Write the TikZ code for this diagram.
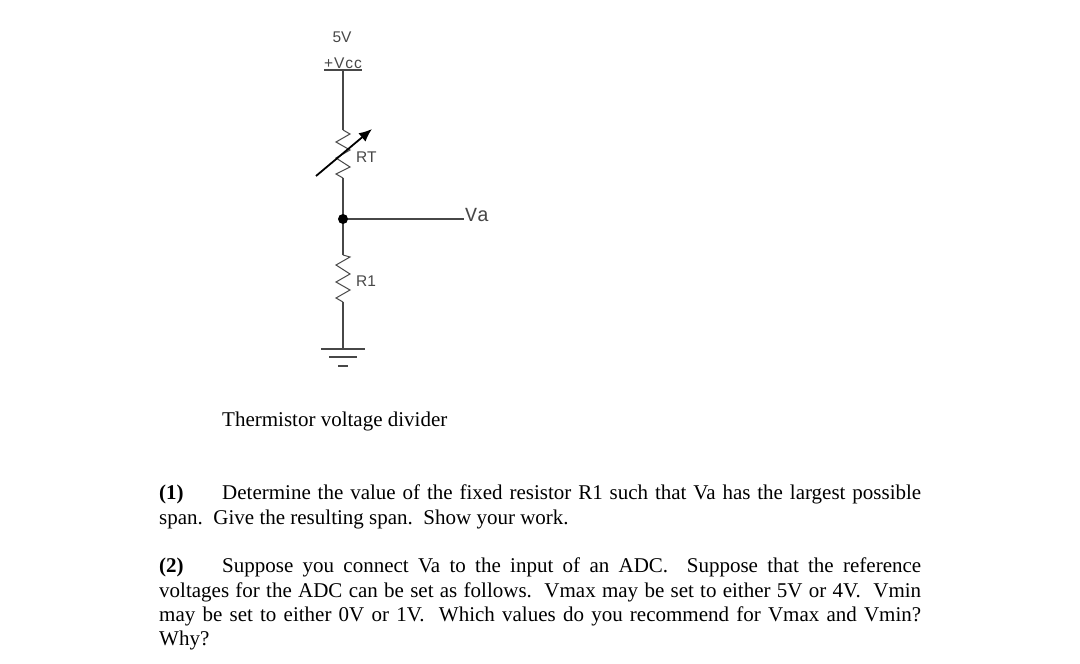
\documentclass[tikz,border=0pt]{standalone}
\usepackage{fontspec}
\setmainfont{Liberation Serif}
\newfontfamily\schemfont{Liberation Sans}
\newfontfamily\schemmono{Liberation Mono}
\usetikzlibrary{arrows.meta}
\newcommand{\bodyline}[2]{\hbox to 762pt{\hbox to 63pt{\textbf{#1}\hfil}#2}}
\newcommand{\plainline}[1]{\hbox to 762pt{#1}}
\tikzset{
  x=1pt,y=-1pt,
  wire/.style={draw=black!72,line width=1.2pt},
  resistor/.style={draw=black!72,line width=1pt,line join=miter},
  schem/.style={inner sep=0pt,text=black!72,font=\schemfont\fontsize{15.5}{17}\selectfont},
  mono/.style={inner sep=0pt,text=black!72,font=\schemmono\fontsize{20}{22}\selectfont},
  body/.style={inner sep=0pt,anchor=base west,text=black,font=\fontsize{21}{25}\selectfont},
}
\begin{document}
\begin{tikzpicture}
\useasboundingbox (0,0) rectangle (1080,664);
\node[schem] (five) at (342,37) {5V};
\node[schem] (vcc) at (343,63) {\addfontfeature{LetterSpace=6}+Vcc};
\coordinate (barL) at (324,70);
\coordinate (barR) at (362,70);
\coordinate (top) at (343,70);
\coordinate (rtT) at (343,130);
\coordinate (rtB) at (343,178);
\coordinate (jn) at (343,219);
\coordinate (vaEnd) at (464,219);
\node[mono,anchor=west] (va) at (465,215) {Va};
\coordinate (r1T) at (343,255);
\coordinate (r1B) at (343,302);
\coordinate (gnd) at (343,349);
\coordinate (g1L) at (321,349);
\coordinate (g1R) at (365,349);
\coordinate (g2L) at (329,357);
\coordinate (g2R) at (357,357);
\coordinate (g3L) at (338,366);
\coordinate (g3R) at (348,366);
\coordinate (arrS) at (316,176);
\coordinate (arrE) at (372,129);
\node[schem,anchor=west] (rt) at (356,157) {RT};
\node[schem,anchor=west] (r1) at (356,281) {R1};
\draw[wire] (barL) -- (barR);
\draw[wire] (top) -- (rtT);
\draw[resistor] (rtT) -- (350,134) -- (336,142) -- (350,150) -- (336,158) -- (350,167) -- (336,174) -- (rtB);
\draw[wire] (rtB) -- (jn);
\draw[wire] (jn) -- (vaEnd);
\draw[wire] (jn) -- (r1T);
\node[circle,fill=black,inner sep=0pt,minimum size=10pt] (junction) at (jn) {};
\draw[resistor] (r1T) -- (350,257) -- (336,265) -- (350,274) -- (336,282) -- (350,290) -- (336,298) -- (r1B);
\draw[wire] (r1B) -- (gnd);
\draw[wire] (g1L) -- (g1R);
\draw[wire] (g2L) -- (g2R);
\draw[wire] (g3L) -- (g3R);
\draw[line width=1.8pt,-{Latex[length=13pt,width=11pt]}] (arrS) -- (arrE);
\node[body] (cap) at (222,426) {Thermistor voltage divider};
\node[body] (l1) at (159,499) {\bodyline{(1)}{Determine the value of the fixed resistor R1 such that Va has the largest possible}};
\node[body] (l2) at (159,524) {span.\ \ Give the resulting span.\ \ Show your work.};
\node[body] (l3) at (159,572) {\bodyline{(2)}{Suppose you connect Va to the input of an ADC.\ \ Suppose that the reference}};
\node[body] (l4) at (159,597) {\plainline{voltages for the ADC can be set as follows.\ \ Vmax may be set to either 5V or 4V.\ \ Vmin}};
\node[body] (l5) at (159,621) {\plainline{may be set to either 0V or 1V.\ \ Which values do you recommend for Vmax and Vmin?}};
\node[body] (l6) at (159,645) {Why?};
\end{tikzpicture}
\end{document}
